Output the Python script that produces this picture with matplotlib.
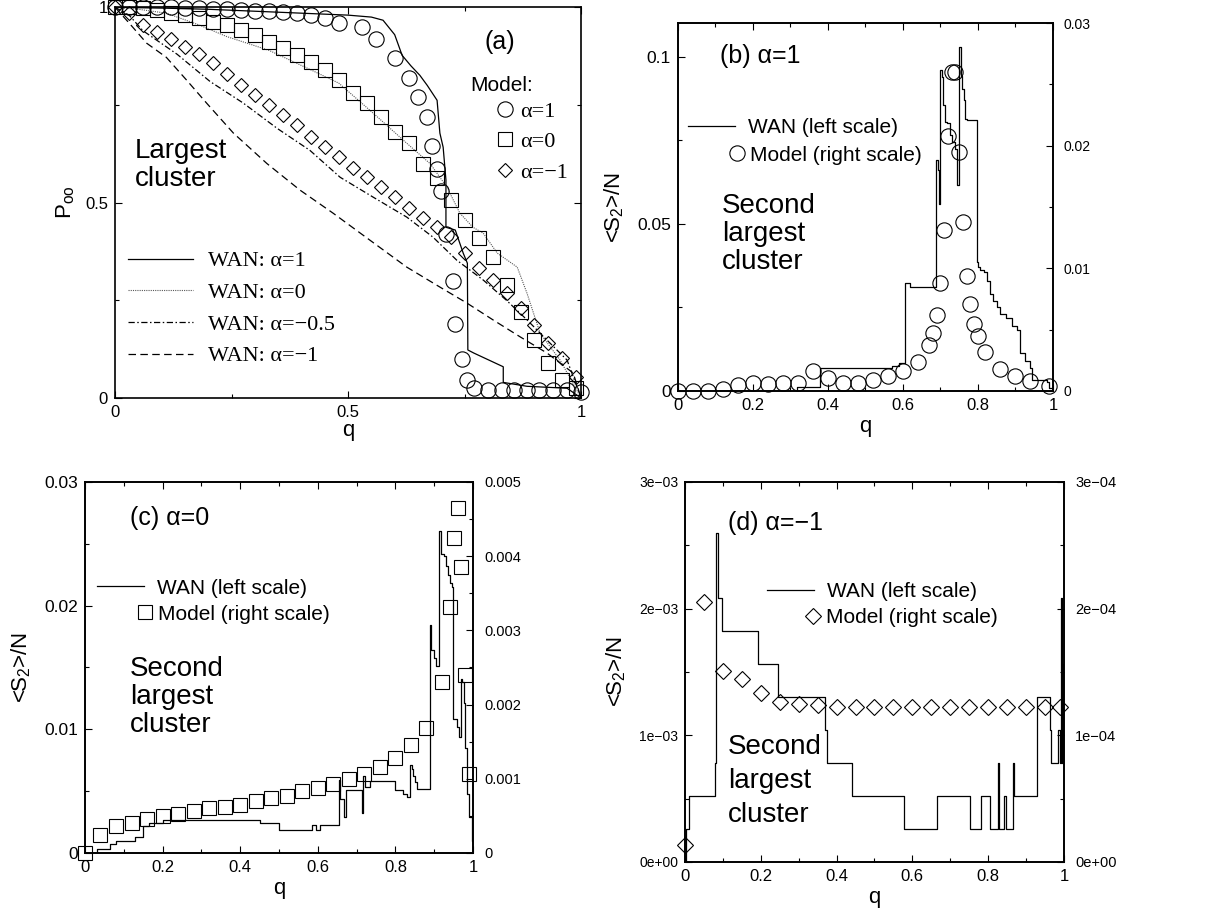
import matplotlib
matplotlib.use("Agg")
import matplotlib.pyplot as plt
from matplotlib.ticker import MultipleLocator

plt.rcParams['font.family'] = ['Liberation Sans', 'DejaVu Sans']
plt.rcParams['mathtext.fontset'] = 'custom'
plt.rcParams['mathtext.rm'] = 'Liberation Sans'
plt.rcParams['mathtext.it'] = 'Liberation Sans:italic'
SERIF = ['Liberation Serif', 'DejaVu Serif']

# ---- (a) largest cluster ----
a_q1 = [0, .03, .06, .09, .12, .15, .18, .21, .24, .27, .30, .33, .36, .39, .42, .45, .48,
        .53, .56, .60, .63, .65, .67, .68, .69, .70, .71, .725, .73, .745, .755, .77,
        .80, .83, .855, .885, .91, .94, .97, 1.0]
a_p1 = [1, 1, 1, 1, 1, .998, .997, .996, .995, .993, .99, .99, .988, .985, .98, .972, .96,
        .95, .918, .87, .82, .77, .72, .645, .585, .53, .42, .30, .19, .10, .045, .025,
        .02, .02, .02, .02, .02, .02, .02, .015]
a_q0 = [round(0.03 * i, 2) for i in range(34)]
a_p0 = [1.0, 1.0, .997, .993, .985, .98, .972, .962, .954, .941, .928, .91, .895, .877, .86,
        .839, .813, .78, .754, .719, .68, .652, .60, .563, .506, .455, .409, .36, .289, .22,
        .148, .09, .046, .026]
a_qm1 = [round(0.03 * i, 2) for i in range(34)]
a_pm1 = [1.0, .985, .955, .936, .92, .898, .88, .857, .83, .80, .775, .75, .725, .698, .668,
         .642, .616, .59, .565, .54, .514, .486, .46, .437, .412, .371, .332, .302, .268, .23,
         .187, .141, .102, .055]

wan1_q = [0, .1, .2, .3, .4, .5, .55, .575, .6, .616, .635, .654, .67, .691, .697, .704, .71,
          .71, .73, .747, .756, .757, .77, .797, .833, .833, .884, .97, 1.0]
wan1_p = [1, .998, .995, .99, .985, .98, .975, .967, .93, .877, .85, .826, .80, .762, .678, .642,
          .558, .437, .43, .371, .345, .123, .115, .10, .08, .04, .03, .025, 0]
wan0_q = [0, .05, .11, .18, .24, .33, .42, .48, .554, .626, .676, .712, .74, .768, .79, .82,
          .863, .884, .912, .955, 1.0]
wan0_p = [1, .995, .985, .955, .925, .89, .84, .806, .729, .652, .60, .54, .473, .437, .422,
          .371, .335, .268, .166, .097, 0]
wan05_q = [0, .03, .06, .133, .204, .275, .348, .418, .483, .554, .626, .682, .733, .79, .84,
           .884, .927, .97, 1.0]
wan05_p = [1, .98, .94, .88, .81, .755, .69, .634, .565, .514, .463, .412, .353, .302, .25,
           .20, .148, .097, 0]
wanm1_q = [0, .03, .068, .11, .154, .197, .254, .326, .397, .468, .54, .626, .697, .755, .811,
           .87, .927, .983, 1.0]
wanm1_p = [1, .96, .908, .872, .813, .754, .678, .60, .532, .473, .41, .335, .284, .243, .20,
           .156, .115, .064, 0]

# ---- (b) alpha = 1 ----
b_q = [0, .04, .08, .12, .16, .20, .24, .28, .32, .36, .40, .44, .48, .52, .56, .60, .64,
       .67, .68, .69, .70, .71, .72, .73, .74, .75, .76, .77, .78, .79, .80,
       .82, .86, .90, .94, .99]
b_model = [0, 0, 0, .0002, .0005, .00063, .00057, .00068, .00063, .00165, .00103, .00063,
           .00068, .0009, .00122, .00165, .0024, .00375, .00475, .0062, .0088, .0131, .0208,
           .026, .026, .0195, .0138, .0094, .0071, .0055, .0045, .0032, .0018, .0012, .0008,
           .0004]
b_wan_q = [0, .317, .379, .57, .59, .605, .62, .688, .693, .696, .699, .703, .706, .712, .718,
           .725, .73, .74, .745, .75, .754, .758, .762, .766, .77, .797, .80, .805, .815, .825,
           .832, .84, .85, .86, .876, .89, .903, .912, .925, .939, .943, .983, .99, 1.0]
b_wan = [0, .0011, .007, .0075, .0083, .0323, .031, .069, .066, .056, .096, .094, .0854,
         .0804, .08, .0765, .0745, .0725, .0616, .1028, .0943, .0904, .0869, .0814, .081,
         .0387, .0372, .0362, .0357, .033, .029, .027, .0252, .023, .0217, .0195, .0182,
         .0113, .009, .0068, .0033, .0028, .0009, 0]

# ---- (c) alpha = 0 ----
c_q = [0, .04, .08, .12, .16, .20, .24, .28, .32, .36, .40, .44, .48, .52, .56, .60, .64, .68,
       .72, .76, .80, .84, .88, .92, .94, .95, .96, .97, .98, .99]
c_model = [0, .00024, .00036, .0004, .00046, .0005, .00053, .00057, .0006, .00062, .00065,
           .0007, .00074, .00077, .00084, .00087, .00093, .001, .00107, .00116, .00128,
           .00145, .00169, .00231, .00331, .00424, .00465, .00385, .0024, .00107]
c_wan_q = [0, .03, .065, .08, .13, .15, .165, .20, .45, .50, .584, .595, .605, .655, .658,
           .668, .672, .713, .717, .722, .735, .80, .82, .83, .838, .842, .846, .85, .855,
           .888, .892, .90, .905, .912, .918, .925, .93, .935, .94, .945, .948, .958, .965,
           .968, .972, .976, .98, .984, .99, .997, 1.0]
c_wan = [0, .0003, .0007, .001, .0013, .0022, .0024, .00267, .0024, .00186, .00226, .00186,
         .00226, .0059, .0044, .0029, .0051, .0032, .0062, .0053, .0058, .0051, .0048, .0045,
         .0071, .0068, .0062, .0057, .0052, .0184, .0164, .0158, .0151, .026, .0242, .024,
         .0232, .0225, .0218, .0215, .0108, .0102, .0094, .0141, .0138, .0121, .0085, .0048,
         .0029, .001, 0]

# ---- (d) alpha = -1 ----
d_q = [0, .05, .10, .15, .20, .25, .30, .35, .40, .45, .50, .55, .60, .65, .70, .75, .80, .85,
       .90, .95, .99]
d_model = [1.32e-5, 2.056e-4, 1.508e-4, 1.442e-4, 1.331e-4, 1.265e-4, 1.244e-4, 1.239e-4]
d_model += [1.226e-4] * 13
d_wan_q = [0, .003, .011, .079, .082, .088, .099, .193, .245, .369, .374, .44, .579, .664,
           .752, .78, .805, .826, .829, .843, .846, .866, .869, .928, .963, .967, .985, .99,
           .993, .995, .997, 1.0]
d_wan = [0, .00026, .00052, .00078, .0026, .00208, .00182, .00156, .0013, .00104, .00078,
         .00052, .00026, .00052, .00026, .00052, .00026, .00078, .00026, .00052, .00026,
         .00078, .00052, .0013, .00104, .00078, .00104, .00078, .00208, .00078, .00156, .00078]

q_ticks = [0, 0.2, 0.4, 0.6, 0.8, 1]
q_labels = ['0', '0.2', '0.4', '0.6', '0.8', '1']

mk = dict(mfc='none', mec='k', mew=0.8, ls='none', clip_on=False)
lw = 0.9


def frame(ax, lsize=12):
    for s in ax.spines.values():
        s.set_linewidth(1.2)
    ax.tick_params(which='both', direction='in', top=True, labelsize=lsize, pad=5)
    ax.tick_params(which='major', length=5, width=0.8)
    ax.tick_params(which='minor', length=3, width=0.8)


fig = plt.figure(figsize=(12.28, 9.15), dpi=100)

# ================= (a) =================
ax = fig.add_axes([0.0937, 0.565, 0.3795, 0.427])
frame(ax, 12)
ax.tick_params(which='both', right=True)
ax.set_xlim(0, 1)
ax.set_ylim(0, 1)
ax.set_xticks([0, 0.5, 1], ['0', '0.5', '1'])
ax.set_yticks([0, 0.5, 1], ['0', '0.5', '1'])
ax.xaxis.set_minor_locator(MultipleLocator(0.25))
ax.yaxis.set_minor_locator(MultipleLocator(0.25))
l1, = ax.plot(wan1_q, wan1_p, color='k', lw=lw)
l2, = ax.plot(wan0_q, wan0_p, color='0.35', lw=0.8, ls=(0, (1, 1)))
l3, = ax.plot(wan05_q, wan05_p, color='k', lw=lw, ls=(0, (5, 2, 1.2, 2)))
l4, = ax.plot(wanm1_q, wanm1_p, color='k', lw=lw, ls=(0, (6, 3.5)))
m1, = ax.plot(a_q1, a_p1, marker='o', ms=11, **mk)
m2, = ax.plot(a_q0, a_p0, marker='s', ms=9.5, **mk)
m3, = ax.plot(a_qm1, a_pm1, marker='D', ms=7.5, **mk)
ax.set_xlabel('q', fontsize=16, labelpad=0)
ax.set_ylabel(r'P$_{\mathregular{oo}}$', fontsize=16, labelpad=6)
leg = ax.legend([l1, l2, l3, l4],
                ['WAN: α=1', 'WAN: α=0', 'WAN: α=−0.5', 'WAN: α=−1'],
                loc='upper left', bbox_to_anchor=(0.028, 0.377), frameon=False,
                borderpad=0, borderaxespad=0, handlelength=2.9, handletextpad=0.7,
                labelspacing=0.5, prop={'family': SERIF, 'size': 16})
ax.add_artist(leg)
ax.legend([m1, m2, m3], ['α=1', 'α=0', 'α=−1'], loc='upper left',
          bbox_to_anchor=(0.815, 0.76), frameon=False, borderpad=0, borderaxespad=0,
          handlelength=0.9, handletextpad=0.25, labelspacing=0.45,
          prop={'family': SERIF, 'size': 16})
ax.text(0.762, 0.80, 'Model:', transform=ax.transAxes, fontsize=15, va='center')
ax.text(0.826, 0.91, '(a)', transform=ax.transAxes, fontsize=18, va='center', ha='center')
ax.text(0.043, 0.665, 'Largest\ncluster', transform=ax.transAxes, fontsize=20, va='top',
        linespacing=1.1)


def second_panel(rect, wq, wv, mq, mv, marker, ms, lylim, lticks, llabels, lminor,
                 rylim, rticks, rlabels, rminor, title, tpos, legpos, txtpos, lsp,
                 lsize, rsize):
    ax = fig.add_axes(rect)
    frame(ax, lsize)
    ax.tick_params(which='both', right=False)
    ax.set_xlim(0, 1)
    ax.set_ylim(*lylim)
    ax.set_xticks(q_ticks, q_labels)
    ax.xaxis.set_minor_locator(MultipleLocator(0.1))
    ax.set_yticks(lticks, llabels)
    ax.yaxis.set_minor_locator(MultipleLocator(lminor))
    ax.tick_params(axis='x', labelsize=12)
    ln, = ax.step(wq, wv, where='post', color='k', lw=lw)
    ax2 = ax.twinx()
    ax2.set_ylim(*rylim)
    ax2.set_yticks(rticks, rlabels)
    ax2.yaxis.set_minor_locator(MultipleLocator(rminor))
    ax2.tick_params(which='both', direction='in', labelsize=rsize, pad=8)
    ax2.tick_params(which='major', length=5, width=0.8)
    ax2.tick_params(which='minor', length=3, width=0.8)
    for s in ax2.spines.values():
        s.set_linewidth(1.2)
    mm, = ax2.plot(mq, mv, marker=marker, ms=ms, **mk)
    ax.set_xlabel('q', fontsize=16, labelpad=2)
    ax.set_ylabel('<S$_2$>/N', fontsize=16, labelpad=8)
    ax.text(tpos[0], tpos[1], title, transform=ax.transAxes, fontsize=18, va='center')
    lg = ax2.legend([ln], ['WAN (left scale)'], loc='center left',
                    bbox_to_anchor=(legpos[0], legpos[1]), frameon=False, borderpad=0,
                    borderaxespad=0, handlelength=2.25, handletextpad=0.62, fontsize=15)
    ax2.add_artist(lg)
    ax2.legend([mm], ['Model (right scale)'], loc='center left',
               bbox_to_anchor=(legpos[2], legpos[3]), frameon=False, borderpad=0,
               borderaxespad=0, handlelength=0.8, handletextpad=0.2, fontsize=15)
    ax.text(txtpos[0], txtpos[1], 'Second\nlargest\ncluster', transform=ax.transAxes,
            fontsize=20, va='top', linespacing=lsp)
    return ax, ax2


# ================= (b) =================
second_panel([0.552, 0.5727, 0.3054, 0.402], b_wan_q, b_wan, b_q, b_model, 'o', 11,
             (0, 0.11), [0, 0.05, 0.1], ['0', '0.05', '0.1'], 0.025,
             (0, 0.03), [0, 0.01, 0.02, 0.03], ['0', '0.01', '0.02', '0.03'], 0.005,
             '(b) α=1', (0.112, 0.91), (0.027, 0.715, 0.136, 0.641), (0.117, 0.538), 1.1,
             12.5, 10)

# ================= (c) =================
second_panel([0.0692, 0.0678, 0.316, 0.4055], c_wan_q, c_wan, c_q, c_model, 's', 10,
             (0, 0.03), [0, 0.01, 0.02, 0.03], ['0', '0.01', '0.02', '0.03'], 0.005,
             (0, 0.005), [0, 0.001, 0.002, 0.003, 0.004, 0.005],
             ['0', '0.001', '0.002', '0.003', '0.004', '0.005'], 0.0005,
             '(c) α=0', (0.116, 0.903), (0.031, 0.714, 0.134, 0.644), (0.116, 0.531), 1.1,
             12.5, 10.5)

# ================= (d) =================
second_panel([0.5578, 0.058, 0.3086, 0.4153], d_wan_q, d_wan, d_q, d_model, 'D', 8,
             (0, 0.003), [0, 0.001, 0.002, 0.003],
             ['0e+00', '1e−03', '2e−03', '3e−03'], 0.0005,
             (0, 0.0003), [0, 0.0001, 0.0002, 0.0003],
             ['0e+00', '1e−04', '2e−04', '3e−04'], 0.00005,
             '(d) α=−1', (0.113, 0.892), (0.216, 0.7105, 0.317, 0.642), (0.113, 0.337), 1.4,
             10, 10.5)

fig.savefig('out.png', dpi=100)
